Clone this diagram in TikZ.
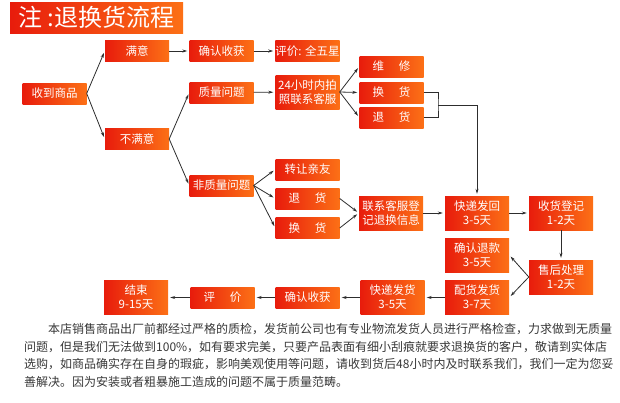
\documentclass[tikz,border=0pt]{standalone}
\usepackage{fontspec}
\setmainfont{Noto Sans CJK SC}
\usepackage{tikz}
\usetikzlibrary{arrows.meta,positioning}
\definecolor{boxred}{RGB}{232,28,12}
\definecolor{boxorange}{RGB}{252,112,22}
\definecolor{linegray}{RGB}{45,45,45}
\definecolor{notegray}{RGB}{55,55,55}
\newcommand{\gap}{\hspace{1.3em}}

\begin{document}
\begin{tikzpicture}[x=1pt,y=-1pt,
  box/.style={minimum width=64pt, minimum height=21pt, inner sep=0pt, left color=boxred, right color=boxorange,
    text=white, align=center, font=\fontsize{11.5}{14}\selectfont},
  tallbox/.style={box, minimum height=34pt},
  link/.style={draw=linegray, line width=0.8pt, -{Stealth[length=5pt,width=3pt]}, shorten >=2pt}]
  \useasboundingbox (0,0) rectangle (620,402);
  \node[box, minimum width=173pt, minimum height=31pt, font=\fontsize{24}{26}\selectfont] (title) at (96.5,17.5) {注 :退换货流程};
  \node[box] (recv) at (54.5,93.5) {收到商品};
  \node[box] (good) at (137,51) {满意};
  \node[box] (bad) at (137,139) {不满意};
  \node[box] (confirm) at (221.5,51) {确认收获};
  \node[box] (rate) at (307.5,51) {评价: 全五星};
  \node[box] (quality) at (221.5,92.5) {质量问题};
  \node[tallbox] (photo) at (307.5,92) {24小时内拍\\照联系客服};
  \node[box] (repair) at (391.5,66.5) {维\gap 修};
  \node[box] (swapq) at (391.5,92.5) {换\gap 货};
  \node[box] (returnq) at (391.5,117.5) {退\gap 货};
  \node[box] (nonq) at (221.5,185.5) {非质量问题};
  \node[box] (gift) at (307.5,169.5) {转让亲友};
  \node[box] (returnn) at (307.5,198.5) {退\gap 货};
  \node[box] (swapn) at (307.5,228) {换\gap 货};
  \node[tallbox] (register) at (391,213) {联系客服登\\记退换信息};
  \node[tallbox] (sendback) at (477,213) {快递发回\\3-5天};
  \node[tallbox] (checkin) at (561,213) {收货登记\\1-2天};
  \node[tallbox] (refund) at (477,255) {确认退款\\3-5天};
  \node[tallbox] (service) at (561,277) {售后处理\\1-2天};
  \node[tallbox] (pack) at (477,297.5) {配货发货\\3-7天};
  \node[tallbox] (ship) at (392.5,297.5) {快递发货\\3-5天};
  \node[box] (confirmb) at (307.5,297.5) {确认收获};
  \node[box] (review) at (222.5,297.5) {评\gap 价};
  \node[tallbox] (finish) at (136,297.5) {结束\\9-15天};
  \coordinate (join) at (438,105);

  \draw[link] (recv.east) -- (good.west);
  \draw[link] (recv.east) -- (bad.west);
  \draw[link] (good) -- (confirm);
  \draw[link] (confirm) -- (rate);
  \draw[link] (bad.east) -- (quality.west);
  \draw[link] (bad.east) -- (nonq.west);
  \draw[link] (quality) -- (photo);
  \foreach \t in {repair,swapq,returnq}
    \draw[link] (photo.east) -- (\t.west);
  \foreach \t in {gift,returnn,swapn}
    \draw[link] (nonq.east) -- (\t.west);
  \draw[link] (returnn.east) -- (register.west);
  \draw[link] (swapn.east) -- (register.west);
  \draw[linegray, line width=0.8pt] (swapq.east) -| (join) |- (returnq.east);
  \draw[link] (join) -| (sendback.north);
  \draw[link] (register) -- (sendback);
  \draw[link] (sendback) -- (checkin);
  \draw[link] (checkin) -- (service);
  \draw[link] (service.west) -- (refund.east);
  \draw[link] (service.west) -- (pack.east);
  \draw[link] (pack) -- (ship);
  \draw[link] (ship) -- (confirmb);
  \draw[link] (confirmb) -- (review);
  \draw[link] (review) -- (finish);

  \node[anchor=north west, align=left, inner sep=0pt, text=notegray, font=\fontsize{12}{17.7}\selectfont] (note) at (24,323)
    {\hspace*{2em}本店销售商品出厂前都经过严格的质检，发货前公司也有专业物流发货人员进行严格检查，力求做到无质量\\
     问题，但是我们无法做到100\%，如有要求完美，只要产品表面有细小刮痕就要求退换货的客户，敬请到实体店\\
     选购，如商品确实存在自身的瑕疵，影响美观使用等问题，请收到货后48小时内及时联系我们，我们一定为您妥\\
     善解决。因为安装或者粗暴施工造成的问题不属于质量范畴。};
\end{tikzpicture}
\end{document}
